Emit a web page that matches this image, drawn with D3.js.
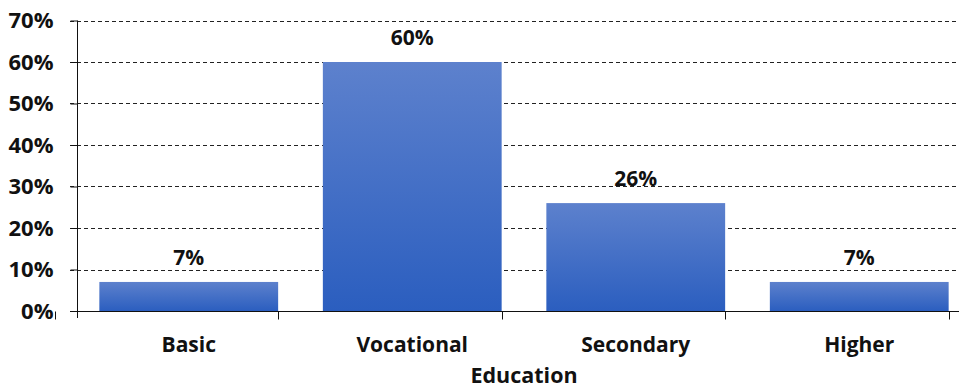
<!DOCTYPE html>
<html>
<head>
<meta charset="utf-8">
<script src="https://cdn.jsdelivr.net/npm/d3@7"></script>
<style>
  html, body { margin: 0; padding: 0; background: #fff; }
  svg { display: block; font-family: "Open Sans", Lato, "Liberation Sans", sans-serif; font-weight: bold; }
</style>
</head>
<body>
<svg id="chart" width="959" height="389"></svg>
<script>
// Share of respondents by education level
const categories = ["Basic", "Vocational", "Secondary", "Higher"];
const shares = [7, 60, 26, 7];
const yTicks = [0, 10, 20, 30, 40, 50, 60, 70];
const axisTitle = "Education";

const svg = d3.select("#chart");
const width = 959, height = 389;
const margin = { left: 77, top: 20.5, bottom: 78 };
const plotRight = 971; // plot area runs slightly past the visible edge
const innerH = height - margin.top - margin.bottom;
const fontFamily = "'Open Sans', Lato, sans-serif";

const x = d3.scaleBand().domain(categories).range([margin.left, plotRight]).paddingInner(0.2).paddingOuter(0.1);
const y = d3.scaleLinear().domain([0, 70]).range([margin.top + innerH, margin.top]);

// bar gradient: lighter at top, deeper blue at the bottom
const defs = svg.append("defs");
const grad = defs.append("linearGradient").attr("id", "barGrad").attr("x1", 0).attr("y1", 0).attr("x2", 0).attr("y2", 1);
grad.append("stop").attr("offset", "0%").attr("stop-color", "#5d81cd");
grad.append("stop").attr("offset", "100%").attr("stop-color", "#2b5ebf");

// dashed horizontal gridlines
svg.append("g").selectAll("line").data(yTicks.filter(d => d > 0)).join("line")
  .attr("x1", margin.left - 7).attr("x2", width)
  .attr("y1", d => Math.round(y(d)) + 0.5).attr("y2", d => Math.round(y(d)) + 0.5)
  .attr("stroke", "#222").attr("stroke-width", 1).attr("stroke-dasharray", "4,3");

// bars
svg.append("g").selectAll("rect").data(categories).join("rect")
  .attr("x", d => x(d))
  .attr("width", x.bandwidth())
  .attr("y", (d, i) => y(shares[i]))
  .attr("height", (d, i) => y(0) - y(shares[i]))
  .attr("fill", "url(#barGrad)");

// value labels
svg.append("g").selectAll("text").data(categories).join("text")
  .attr("x", d => x(d) + x.bandwidth() / 2)
  .attr("y", (d, i) => y(shares[i]) - 17)
  .attr("text-anchor", "middle")
  .attr("font-size", 21)
  .attr("fill", "#111")
  .text((d, i) => shares[i] + "%");

// y axis
const yAxis = d3.axisLeft(y).tickValues(yTicks).tickFormat(d => d + "%").tickSize(7).tickPadding(17);
const gy = svg.append("g").attr("transform", `translate(${margin.left + 0.5},0)`).call(yAxis);
gy.select(".domain").attr("stroke", "#111").attr("d", `M0,${y(70)}V${y(0) + 7}`);
gy.selectAll(".tick line").attr("stroke", "#111");
gy.selectAll(".tick text").attr("font-size", 22).attr("font-weight", "bold").attr("fill", "#111")
  .attr("font-family", fontFamily);

// x axis baseline with category separator ticks
const baseY = Math.round(y(0)) + 0.5;
svg.append("line").attr("x1", margin.left - 7).attr("x2", width).attr("y1", baseY).attr("y2", baseY)
  .attr("stroke", "#111").attr("stroke-width", 1.2);
const step = x.step();
const sepX = d3.range(categories.length + 1).map(i => x(categories[0]) - x.paddingOuter() * step - x.paddingInner() * step / 2 + i * step);
svg.append("g").selectAll("line").data(sepX).join("line")
  .attr("x1", d => Math.round(d) + 0.5).attr("x2", d => Math.round(d) + 0.5)
  .attr("y1", baseY).attr("y2", baseY + 8)
  .attr("stroke", "#111");

// category labels
svg.append("g").selectAll("text").data(categories).join("text")
  .attr("x", d => x(d) + x.bandwidth() / 2)
  .attr("y", baseY + 40)
  .attr("text-anchor", "middle")
  .attr("font-size", 21)
  .attr("fill", "#111")
  .text(d => d);

// axis title
svg.append("text")
  .attr("x", (margin.left + plotRight) / 2)
  .attr("y", height - 6)
  .attr("text-anchor", "middle")
  .attr("font-size", 21.5)
  .attr("fill", "#111")
  .text(axisTitle);
</script>
</body>
</html>
